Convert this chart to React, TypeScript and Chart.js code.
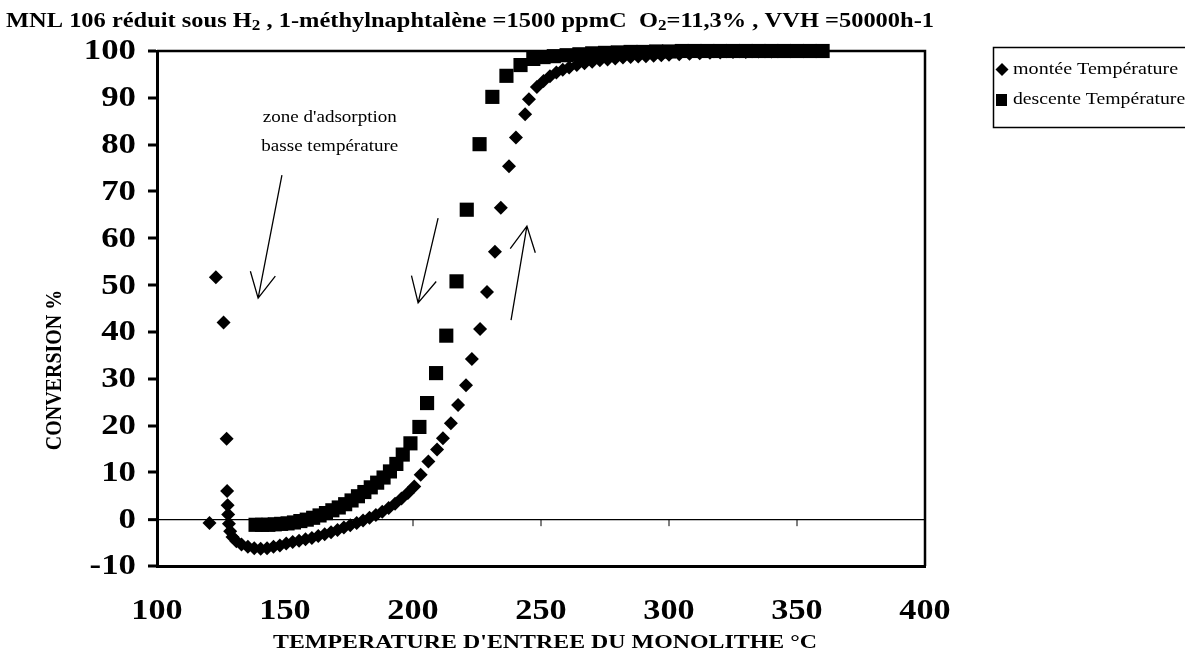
import React, { useEffect, useRef } from "react";
import { Chart, registerables } from "chart.js";

Chart.register(...registerables);

// Title pieces: [text, subscript?]
const TITLE_PARTS: [string, boolean][] = [
  ["MNL 106 réduit sous H", false],
  ["2", true],
  [" , 1-méthylnaphtalène =1500 ppmC  O", false],
  ["2", true],
  ["=11,3% , VVH =50000h-1", false],
];
const X_TITLE = "TEMPERATURE D'ENTREE DU MONOLITHE °C";
const Y_TITLE = "CONVERSION %";
const SERIES_NAMES = ["montée Température", "descente Température"];
const NOTE_LINES = ["zone d'adsorption", "basse température"];

const X_MIN = 100;
const X_MAX = 400;
const X_STEP = 50;
const Y_MIN = -10;
const Y_MAX = 100;
const Y_STEP = 10;

// Rising temperature run (°C, conversion %)
const monteeT = [
  120.5, 123, 126, 127.2, 127.4, 127.6, 127.8, 128.1, 128.6, 129.5, 131, 133,
  135.5, 138, 140.5, 143, 145.5, 148, 150.5, 153, 155.5, 158, 160.5, 163,
  165.5, 168, 170.5, 173, 175.5, 178, 180.5, 183, 185.5, 188, 190.5, 193,
  195.5, 198, 200.5, 203, 206, 209.4, 211.7, 214.8, 217.6, 220.7, 223, 226.2,
  228.9, 232, 234.3, 237.5, 240.2, 243.8, 245.3, 248.4, 251, 253.5, 256,
  258.5, 261, 264, 267, 270, 273, 276, 279, 282, 285, 288, 291, 294, 297, 300,
  304, 308, 312, 316, 320, 325, 330, 335, 340, 345, 350,
];
const monteeC = [
  -0.8, 51.7, 42, 17.2, 6, 3, 1, -1, -2.6, -3.8, -4.7, -5.4,
  -5.9, -6.2, -6.3, -6.2, -5.9, -5.6, -5.2, -4.9, -4.6, -4.3, -4.0, -3.6,
  -3.2, -2.8, -2.3, -1.8, -1.3, -0.8, -0.3, 0.3, 0.9, 1.6, 2.4, 3.3,
  4.4, 5.6, 7, 9.5, 12.3, 14.9, 17.3, 20.5, 24.4, 28.6, 34.2, 40.6,
  48.5, 57.1, 66.5, 75.4, 81.5, 86.5, 89.7, 92.3, 93.6, 94.6, 95.4,
  96, 96.5, 97, 97.4, 97.7, 98, 98.2, 98.4, 98.6, 98.7, 98.8, 98.9, 99, 99.1, 99.2,
  99.3, 99.4, 99.5, 99.6, 99.7, 99.8, 99.8, 99.9, 99.9, 100, 100,
];

// Falling temperature run (°C, conversion %)
const descenteT = [
  360, 355, 350, 345, 340, 335, 330, 325, 320, 315, 310, 305, 300, 295, 290,
  285, 280, 275, 270, 265, 260, 255, 251, 247, 242, 236.5, 231, 226, 221, 217,
  213, 209, 205.5, 202.5, 199, 196, 193.5, 191, 188.5, 186, 183.5, 181, 178.5,
  176, 173.5, 171, 168.5, 166, 163.5, 161, 158.5, 156, 153.5, 151, 148.5, 146,
  143.5, 141, 138.5,
];
const descenteC = [
  100, 100, 100, 100, 100, 100, 100, 100, 100, 100, 100, 100, 99.9, 99.9, 99.8,
  99.8, 99.7, 99.6, 99.5, 99.3, 99.1, 98.9, 98.7, 98.3, 97.0, 94.7, 90.2, 80.1, 66.1, 50.8,
  39.2, 31.2, 24.8, 19.7, 16.2, 13.8, 11.8, 10.2, 8.9, 7.8, 6.8, 5.8, 4.9,
  4.0, 3.2, 2.5, 1.9, 1.3, 0.8, 0.3, -0.1, -0.4, -0.7, -0.9, -1.0, -1.1,
  -1.2, -1.2, -1.2,
];

// Hand-drawn arrows, in axis units: [tailX, tailY, tipX, tipY]
const ARROWS: [number, number, number, number][] = [
  [148.8, 73.5, 139.5, 47.2],
  [209.8, 64.3, 202.0, 46.2],
  [238.3, 42.5, 244.5, 62.6],
];
// Note anchor (centre of each text line), in axis units
const NOTE_X = 167.5;
const NOTE_Y = [85.7, 79.5];

const SERIF = '"Liberation Serif", "Times New Roman", serif';

// Draws text with a horizontal stretch factor (wide, scanned-looking type)
function wideText(
  ctx: CanvasRenderingContext2D,
  text: string,
  x: number,
  y: number,
  align: CanvasTextAlign,
  sx: number
) {
  ctx.save();
  ctx.translate(x, y);
  ctx.scale(sx, 1);
  ctx.textAlign = align;
  ctx.fillText(text, 0, 0);
  ctx.restore();
}

const decorations = {
  id: "decorations",
  beforeDatasetsDraw(chart: any) {
    const { ctx, chartArea } = chart;
    const { left, right, top, bottom } = chartArea;
    ctx.save();
    ctx.strokeStyle = "#000";
    ctx.lineWidth = 2.5;
    ctx.beginPath();
    ctx.moveTo(left, top);
    ctx.lineTo(right, top);
    ctx.lineTo(right, bottom);
    ctx.stroke();
    ctx.restore();
  },
  afterDraw(chart: any) {
    const { ctx } = chart;
    const xs = chart.scales.x;
    const ys = chart.scales.y;
    ctx.save();
    ctx.fillStyle = "#000";
    ctx.strokeStyle = "#000";
    ctx.textBaseline = "alphabetic";

    // title with subscripts, stretched to its full line width
    const titleFont = (sub: boolean) => (sub ? `bold 14px ${SERIF}` : `bold 20px ${SERIF}`);
    let natural = 0;
    for (const [text, sub] of TITLE_PARTS) {
      ctx.font = titleFont(sub);
      natural += ctx.measureText(text).width;
    }
    const tsx = 928 / natural;
    ctx.save();
    ctx.translate(6, 27);
    ctx.scale(tsx, 1);
    let cx = 0;
    for (const [text, sub] of TITLE_PARTS) {
      ctx.font = titleFont(sub);
      ctx.textAlign = "left";
      ctx.fillText(text, cx, sub ? 3 : 0);
      cx += ctx.measureText(text).width;
    }
    ctx.restore();

    // tick labels
    ctx.font = `bold 29px ${SERIF}`;
    ctx.textBaseline = "middle";
    for (const t of ys.ticks) {
      wideText(ctx, String(t.value), 136, ys.getPixelForValue(t.value) + 1, "right", 1.2);
    }
    for (const t of xs.ticks) {
      wideText(ctx, String(t.value), xs.getPixelForValue(t.value), 612, "center", 1.18);
    }

    // axis titles
    ctx.font = `bold 19px ${SERIF}`;
    ctx.textBaseline = "middle";
    const xtw = ctx.measureText(X_TITLE).width;
    wideText(ctx, X_TITLE, 545, 643, "center", 544 / xtw);
    ctx.save();
    ctx.font = `bold 20px ${SERIF}`;
    ctx.translate(55, 370);
    ctx.rotate(-Math.PI / 2);
    ctx.scale(1, 1.2);
    ctx.textAlign = "center";
    ctx.fillText(Y_TITLE, 0, 0);
    ctx.restore();

    // note text
    ctx.font = `17px ${SERIF}`;
    NOTE_LINES.forEach((line, i) => {
      wideText(ctx, line, xs.getPixelForValue(NOTE_X), ys.getPixelForValue(NOTE_Y[i]), "center", 1.12);
    });

    // arrows with open heads
    ctx.lineWidth = 1.3;
    const arm = 28;
    const spread = (27 * Math.PI) / 180;
    for (const [tx0, ty0, px0, py0] of ARROWS) {
      const tx = xs.getPixelForValue(tx0);
      const ty = ys.getPixelForValue(ty0);
      const px = xs.getPixelForValue(px0);
      const py = ys.getPixelForValue(py0);
      const ang = Math.atan2(ty - py, tx - px);
      ctx.beginPath();
      ctx.moveTo(tx, ty);
      ctx.lineTo(px, py);
      ctx.moveTo(px + arm * Math.cos(ang - spread), py + arm * Math.sin(ang - spread));
      ctx.lineTo(px, py);
      ctx.lineTo(px + arm * Math.cos(ang + spread), py + arm * Math.sin(ang + spread));
      ctx.stroke();
    }

    // small tick marks on the zero line
    const y0 = ys.getPixelForValue(0);
    ctx.lineWidth = 1;
    for (let v = X_MIN + X_STEP; v < X_MAX; v += X_STEP) {
      const x = xs.getPixelForValue(v);
      ctx.beginPath();
      ctx.moveTo(x, y0);
      ctx.lineTo(x, y0 + 7);
      ctx.stroke();
    }

    // legend box
    ctx.lineWidth = 1.5;
    ctx.strokeRect(993.5, 47.5, 200, 80);
    ctx.beginPath();
    ctx.moveTo(1002, 63);
    ctx.lineTo(1008.5, 69.5);
    ctx.lineTo(1002, 76);
    ctx.lineTo(995.5, 69.5);
    ctx.closePath();
    ctx.fill();
    ctx.fillRect(996, 94, 11, 12);
    ctx.font = `17px ${SERIF}`;
    ctx.textBaseline = "middle";
    wideText(ctx, SERIES_NAMES[0], 1013, 70, "left", 1.18);
    wideText(ctx, SERIES_NAMES[1], 1013, 100, "left", 1.16);
    ctx.restore();
  },
};

export default function App() {
  const canvasRef = useRef<HTMLCanvasElement | null>(null);

  useEffect(() => {
    if (!canvasRef.current) return;
    const toPoints = (xs: number[], ys: number[]) => xs.map((x, i) => ({ x, y: ys[i] }));
    const chart = new Chart(canvasRef.current, {
      type: "scatter",
      data: {
        datasets: [
          {
            label: SERIES_NAMES[0],
            data: toPoints(monteeT, monteeC),
            pointStyle: "rectRot",
            pointRadius: 7,
            backgroundColor: "#000",
            borderColor: "#000",
            borderWidth: 0,
            clip: false,
          },
          {
            label: SERIES_NAMES[1],
            data: toPoints(descenteT, descenteC),
            pointStyle: "rect",
            pointRadius: 10,
            backgroundColor: "#000",
            borderColor: "#000",
            borderWidth: 0,
            clip: false,
          },
        ],
      },
      options: {
        animation: false,
        responsive: true,
        maintainAspectRatio: false,
        layout: { padding: { top: 51, right: 260, left: 0, bottom: 0 } },
        plugins: {
          legend: { display: false },
          title: { display: false },
          tooltip: { enabled: false },
        },
        scales: {
          x: {
            type: "linear",
            min: X_MIN,
            max: X_MAX,
            afterFit: (s: any) => {
              s.height = 93;
            },
            ticks: {
              stepSize: X_STEP,
              color: "rgba(0,0,0,0)",
              padding: 30,
              font: { family: SERIF, size: 24, weight: "bold" },
            },
            grid: { display: false, drawTicks: false },
            border: { display: true, color: "#000", width: 3 },
          },
          y: {
            type: "linear",
            min: Y_MIN,
            max: Y_MAX,
            afterFit: (s: any) => {
              s.width = 157;
            },
            ticks: {
              stepSize: Y_STEP,
              color: "rgba(0,0,0,0)",
              padding: 10,
              font: { family: SERIF, size: 26, weight: "bold" },
            },
            grid: {
              drawOnChartArea: true,
              color: (c: any) => (c.tick && c.tick.value === 0 ? "#000" : "rgba(0,0,0,0)"),
              lineWidth: (c: any) => (c.tick && c.tick.value === 0 ? 1.3 : 0),
              tickColor: "#000",
              tickLength: 9,
              tickWidth: 3,
            },
            border: { display: true, color: "#000", width: 3 },
          },
        },
      },
      plugins: [decorations],
    });
    return () => chart.destroy();
  }, []);

  return (
    <div style={{ position: "absolute", left: 0, top: 0, width: 1185, height: 659, background: "#fff" }}>
      <canvas ref={canvasRef} />
    </div>
  );
}
